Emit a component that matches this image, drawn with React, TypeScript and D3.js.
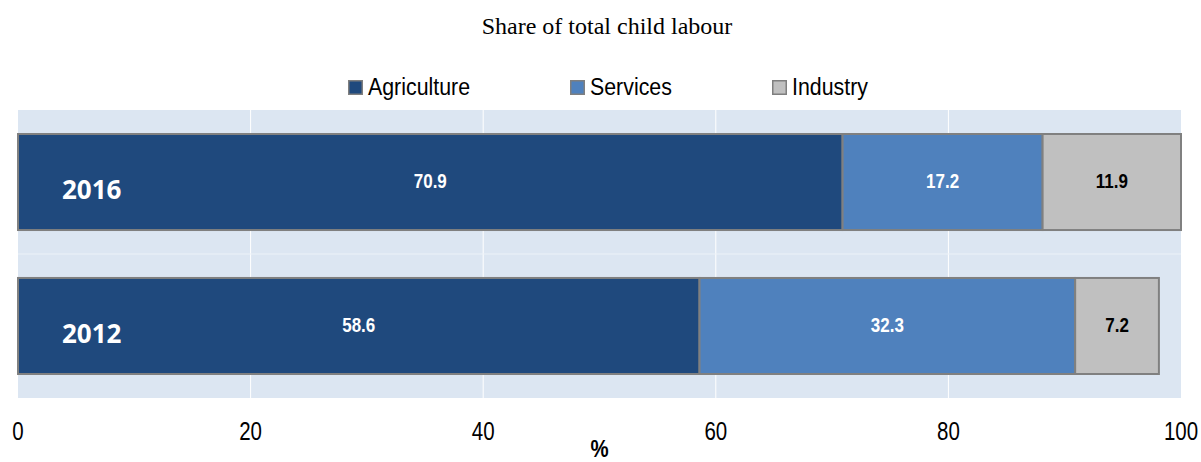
import React, { useEffect } from "react";
import * as d3 from "d3";

const title = "Share of total child labour";
const years = ["2016", "2012"];
const seriesNames = ["Agriculture", "Services", "Industry"];
const agriculture = [70.9, 58.6];
const services = [17.2, 32.3];
const industry = [11.9, 7.2];
const xTicks = [0, 20, 40, 60, 80, 100];
const xAxisLabel = "%";

const colors = ["#1f497d", "#4f81bd", "#c0c0c0"];
const labelColors = ["#ffffff", "#ffffff", "#000000"];

const W = 1201;
const H = 462;
const plot = { left: 18, right: 1181, top: 110, bottom: 398 };
const sans = "'Liberation Sans', Arial, sans-serif";

function NarrowText(props: {
  x: number;
  y: number;
  size: number;
  squeeze?: number;
  anchor?: "start" | "middle" | "end";
  bold?: boolean;
  fill?: string;
  children: React.ReactNode;
}) {
  const { x, y, size, squeeze = 0.82, anchor = "start", bold = false, fill = "#000" } = props;
  return (
    <g transform={`translate(${x},${y}) scale(${squeeze},1)`}>
      <text x={0} y={0} textAnchor={anchor} fontFamily={sans} fontSize={size} fontWeight={bold ? "bold" : "normal"} fill={fill}>
        {props.children}
      </text>
    </g>
  );
}

export default function App() {
  useEffect(() => {
    document.body.style.margin = "0";
  }, []);

  const x = d3.scaleLinear().domain([0, 100]).range([plot.left, plot.right]);
  const y = d3
    .scaleBand<string>()
    .domain(years)
    .range([plot.top, plot.bottom])
    .paddingInner(0.333)
    .paddingOuter(0.1667);

  const rows = years.map((yr, i) => ({ year: yr, agriculture: agriculture[i], services: services[i], industry: industry[i] }));
  const stack = d3.stack<any>().keys(["agriculture", "services", "industry"]);
  const stacked = stack(rows);

  const step = y.step();
  const legendItems = [
    { name: seriesNames[0], boxX: 348 },
    { name: seriesNames[1], boxX: 570 },
    { name: seriesNames[2], boxX: 772 },
  ];

  return (
    <svg width={W} height={H} style={{ display: "block" }} xmlns="http://www.w3.org/2000/svg">
      <rect width={W} height={H} fill="#ffffff" />
      <text x={607} y={34} textAnchor="middle" fontFamily="'Liberation Serif', 'Times New Roman', serif" fontSize={24} fill="#000">
        {title}
      </text>
      {legendItems.map((it, i) => (
        <g key={it.name}>
          <rect x={it.boxX + 0.75} y={80.75} width={13.5} height={13.5} fill={colors[i]} stroke="#7f7f7f" strokeWidth={1.5} />
          <NarrowText x={it.boxX + 20} y={95} size={24} squeeze={0.89}>
            {it.name}
          </NarrowText>
        </g>
      ))}
      <rect x={plot.left} y={plot.top} width={plot.right - plot.left} height={plot.bottom - plot.top} fill="#dce6f2" />
      {xTicks.slice(1, -1).map((t) => (
        <line key={t} x1={x(t)} x2={x(t)} y1={plot.top} y2={plot.bottom} stroke="#ffffff" strokeWidth={1} />
      ))}
      <line x1={plot.left} x2={plot.right} y1={plot.top + step} y2={plot.top + step} stroke="#edf2f8" strokeWidth={1} />
      {stacked.map((s, si) =>
        s.map((d, di) => (
          <rect
            key={`${si}-${di}`}
            x={x(d[0])}
            y={y(years[di])!}
            width={x(d[1]) - x(d[0])}
            height={y.bandwidth()}
            fill={colors[si]}
            stroke="#808080"
            strokeWidth={2}
          />
        ))
      )}
      {stacked.map((s, si) =>
        s.map((d, di) => (
          <NarrowText
            key={`l${si}-${di}`}
            x={(x(d[0]) + x(d[1])) / 2}
            y={y(years[di])! + y.bandwidth() / 2 + 6}
            anchor="middle"
            bold
            size={20}
            squeeze={0.85}
            fill={labelColors[si]}
          >
            {(d[1] - d[0]).toFixed(1)}
          </NarrowText>
        ))
      )}
      {years.map((yr) => (
        <text
          key={yr}
          x={62}
          y={y(yr)! + y.bandwidth() / 2 + 17}
          fontFamily="'Open Sans', Lato, sans-serif"
          fontWeight="bold"
          fontSize={26}
          fill="#ffffff"
        >
          {yr}
        </text>
      ))}
      {xTicks.map((t) => (
        <NarrowText key={t} x={x(t)} y={440} anchor="middle" size={25} squeeze={0.82}>
          {t}
        </NarrowText>
      ))}
      <NarrowText x={(plot.left + plot.right) / 2} y={457} anchor="middle" bold size={24} squeeze={0.85}>
        {xAxisLabel}
      </NarrowText>
    </svg>
  );
}
